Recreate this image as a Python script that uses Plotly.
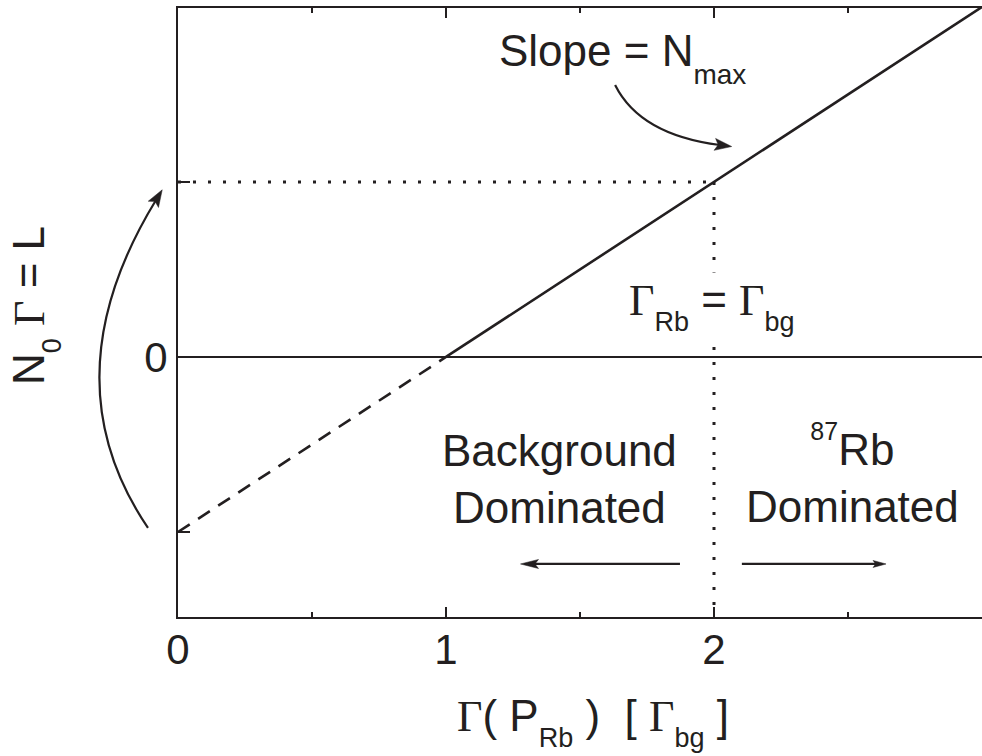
import math
import plotly.graph_objects as go

# ---- axis extents -------------------------------------------------------
X_RANGE = [0.0, 3.0]          # Γ(P_Rb) in units of Γ_bg
Y_RANGE = [-1.486, 1.994]     # N0·Γ = L (arbitrary units)

# ---- loading line L = N0·Γ ---------------------------------------------
solid_x = [1.0, 3.0]          # physical branch (L >= 0)
solid_y = [0.0, 2.0]
dashed_x = [0.0, 1.0]         # extrapolated branch (L < 0)
dashed_y = [-1.0, 0.0]

# crossover point Γ_Rb = Γ_bg
cross_x = 2.0
cross_y = 1.0

# ---- ticks --------------------------------------------------------------
x_tick_vals = [0, 1, 2]
x_tick_text = ["0", "1", "2"]
y_tick_vals = [-1, 0, 1]
y_tick_text = ["", "0", ""]

INK = "#231f20"
SANS = "Liberation Sans, Arial, sans-serif"
SERIF = "Liberation Serif"
FS = 44

# plot-area geometry (pixels)
W_FIG, H_FIG = 982, 756
M_L, M_R, M_T, M_B = 178, 0, 8, 139
W_PLOT = W_FIG - M_L - M_R
H_PLOT = H_FIG - M_T - M_B


def d2px(x, y):
    px = M_L + (x - X_RANGE[0]) / (X_RANGE[1] - X_RANGE[0]) * W_PLOT
    py = M_T + (Y_RANGE[1] - y) / (Y_RANGE[1] - Y_RANGE[0]) * H_PLOT
    return px, py


def px2paper(px, py):
    return (px - M_L) / W_PLOT, (M_T + H_PLOT - py) / H_PLOT


def pt(px, py):
    u, v = px2paper(px, py)
    return f"{u:.5f},{v:.5f}"


def arrow_head(end_px, direction, hl, hw):
    """Slim filled arrowhead whose shaft stops at end_px."""
    dx, dy = direction
    n = math.hypot(dx, dy)
    ux, uy = dx / n, dy / n
    nx, ny = -uy, ux
    tx, ty = end_px[0] + ux * 0.7 * hl, end_px[1] + uy * 0.7 * hl
    bx, by = tx - ux * hl, ty - uy * hl
    kx, ky = tx - ux * 0.8 * hl, ty - uy * 0.8 * hl
    return (f"M{pt(tx, ty)} L{pt(bx + nx * hw, by + ny * hw)} "
            f"L{pt(kx, ky)} L{pt(bx - nx * hw, by - ny * hw)} Z")


shapes = []


def curved_arrow(start, ctrl, end, hl, hw):
    p0, c, p2 = d2px(*start), d2px(*ctrl), d2px(*end)
    shapes.append(dict(type="path", xref="paper", yref="paper",
                       path=f"M{pt(*p0)} Q{pt(*c)} {pt(*p2)}",
                       line=dict(color=INK, width=2.2)))
    shapes.append(dict(type="path", xref="paper", yref="paper",
                       path=arrow_head(p2, (p2[0] - c[0], p2[1] - c[1]), hl, hw),
                       fillcolor=INK, line=dict(color=INK, width=0.5)))


def straight_arrow(tail, end, hl, hw):
    p0, p2 = d2px(*tail), d2px(*end)
    shapes.append(dict(type="path", xref="paper", yref="paper",
                       path=f"M{pt(*p0)} L{pt(*p2)}",
                       line=dict(color=INK, width=2.2)))
    shapes.append(dict(type="path", xref="paper", yref="paper",
                       path=arrow_head(p2, (p2[0] - p0[0], p2[1] - p0[1]), hl, hw),
                       fillcolor=INK, line=dict(color=INK, width=0.5)))


# sweeping arrow beside the vertical axis
curved_arrow((-0.112, -0.977), (-0.489, -0.123), (-0.082, 0.897), 17, 6)
# arrow from the slope label to the line
curved_arrow((1.631, 1.554), (1.724, 1.269), (2.022, 1.211), 17, 6)
# regime arrows
straight_arrow((1.873, -1.183), (1.325, -1.183), 18, 4.5)
straight_arrow((2.104, -1.183), (2.608, -1.183), 13, 3.5)

fig = go.Figure()

fig.add_trace(go.Scatter(x=solid_x, y=solid_y, mode="lines",
                         line=dict(color=INK, width=2.6), hoverinfo="skip"))
fig.add_trace(go.Scatter(x=dashed_x, y=dashed_y, mode="lines",
                         line=dict(color=INK, width=2.6, dash="14px,10px"),
                         hoverinfo="skip"))
# dotted guides through the crossover point
fig.add_trace(go.Scatter(x=[X_RANGE[0], cross_x], y=[cross_y, cross_y], mode="lines",
                         line=dict(color=INK, width=3, dash="3px,12px"),
                         hoverinfo="skip"))
fig.add_trace(go.Scatter(x=[cross_x, cross_x], y=[cross_y, Y_RANGE[0]], mode="lines",
                         line=dict(color=INK, width=3, dash="3px,12px"),
                         hoverinfo="skip"))


def g(s):
    return f"<span style='font-family:{SERIF}'>{s}</span>"


def sub(s, size=27, shift=16):
    return f"<span style='font-size:{size}px;baseline-shift:-{shift}px'>{s}</span>"


def sup(s, size=25, shift=25):
    return f"<span style='font-size:{size}px;baseline-shift:{shift}px'>{s}</span>"


annotations = [
    dict(text="Slope = N" + sub("max", 28, 18), x=1.190, y=1.708,
         xanchor="left", yanchor="middle"),
    dict(text=g("Γ") + sub("Rb") + " = " + g("Γ") + sub("bg"), x=1.672, y=0.292,
         xanchor="left", yanchor="middle", bgcolor="white", borderpad=2),
    dict(text="Background<br>Dominated", x=1.424, y=-0.697,
         xanchor="center", yanchor="middle"),
    dict(text=sup("87") + "Rb<br>Dominated", x=2.515, y=-0.669,
         xanchor="center", yanchor="middle"),
    dict(text=g("Γ") + "( P" + sub("Rb") + " )\u00a0 [ " + g("Γ") + sub("bg") + " ]",
         xref="paper", yref="paper", x=0.345, y=-0.172,
         xanchor="left", yanchor="middle"),
    dict(text="N" + sub("0", 27, 17) + " " + g("Γ") + " = L",
         xref="paper", yref="paper", x=-0.1780, y=0.512, textangle=-90,
         xanchor="center", yanchor="middle"),
]
for a in annotations:
    a.setdefault("xref", "x")
    a.setdefault("yref", "y")
    a.setdefault("font", dict(size=FS, color=INK, family=SANS))
    a["showarrow"] = False

fig.update_layout(
    width=W_FIG, height=H_FIG,
    margin=dict(l=M_L, r=M_R, t=M_T, b=M_B, pad=0),
    paper_bgcolor="white", plot_bgcolor="white",
    showlegend=False,
    shapes=shapes,
    annotations=annotations,
    font=dict(family=SANS, size=FS, color=INK),
)
fig.update_xaxes(
    range=X_RANGE, showgrid=False, zeroline=False,
    showline=True, linecolor=INK, linewidth=2, mirror="ticks",
    ticks="inside", ticklen=10, tickwidth=2, tickcolor=INK,
    tickvals=x_tick_vals, ticktext=x_tick_text, ticklabelstandoff=-5,
    tickfont=dict(size=42, color=INK, family=SANS),
    minor=dict(tick0=0, dtick=0.5, ticks="inside", ticklen=5, tickwidth=2, tickcolor=INK),
)
fig.update_yaxes(
    range=Y_RANGE, showgrid=False,
    zeroline=True, zerolinecolor=INK, zerolinewidth=1.5,
    showline=True, linecolor=INK, linewidth=2, mirror=False,
    ticks="inside", ticklen=12, tickwidth=2, tickcolor=INK,
    tickvals=y_tick_vals, ticktext=y_tick_text, ticklabelstandoff=0,
    tickfont=dict(size=42, color=INK, family=SANS),
)

fig.write_html("out.html")
